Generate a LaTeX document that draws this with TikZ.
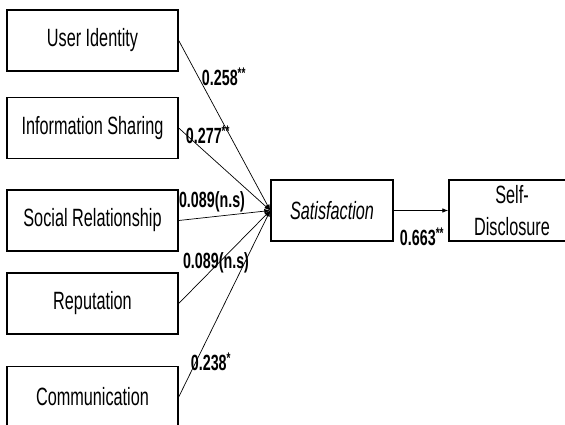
\documentclass[tikz,border=0pt]{standalone}
\usepackage{fontspec}
\setmainfont{Liberation Sans}[FakeStretch=0.65]
\usetikzlibrary{arrows.meta}
\tikzset{
  factor/.style={draw, line width=1.4pt, minimum width=171pt, minimum height=61pt,
    inner sep=0pt, font=\fontsize{25}{32}\selectfont},
  coef/.style={inner sep=0pt, font=\bfseries\fontsize{22}{24}\selectfont},
  effect/.style={line width=0.7pt, -{Latex[length=6pt,width=4.5pt]}},
}
\begin{document}
\begin{tikzpicture}[x=1pt,y=-1pt]
\useasboundingbox (0,0) rectangle (565,425);
\clip (0,0) rectangle (565,425);
% predictors
\node[factor] (uid) at (92.5,40.5) {User Identity};
\node[factor] (info) at (92.5,128) {Information Sharing};
\node[factor] (social) at (92.5,220.5) {Social Relationship};
\node[factor] (rep) at (92.5,303.5) {Reputation};
\node[factor] (comm) at (92.5,397) {Communication};
% mediator and outcome
\node[factor, minimum width=122pt, font=\itshape\fontsize{25}{32}\selectfont] (sat) at (332,210.5) {Satisfaction};
\node[factor, minimum width=126pt, align=center] (self) at (512,210.5) {Self-\\Disclosure};
% paths
\draw[effect] (uid.east) -- (sat.west);
\draw[effect] (info.east) -- (sat.west);
\draw[effect] (social.east) -- (sat.west);
\draw[effect] (rep.east) -- (sat.west);
\draw[effect] (comm.east) -- (sat.west);
\draw[effect] (sat.east) -- (self.west);
% coefficients
\node[coef] (c1) at (224,77) {0.258\textsuperscript{**}};
\node[coef] (c2) at (208,135) {0.277\textsuperscript{**}};
\node[coef] (c3) at (212,202) {0.089(n.s)};
\node[coef] (c4) at (216,263) {0.089(n.s)};
\node[coef] (c5) at (211,362) {0.238\textsuperscript{*}};
\node[coef] (c6) at (422,237) {0.663\textsuperscript{**}};
\end{tikzpicture}
\end{document}
